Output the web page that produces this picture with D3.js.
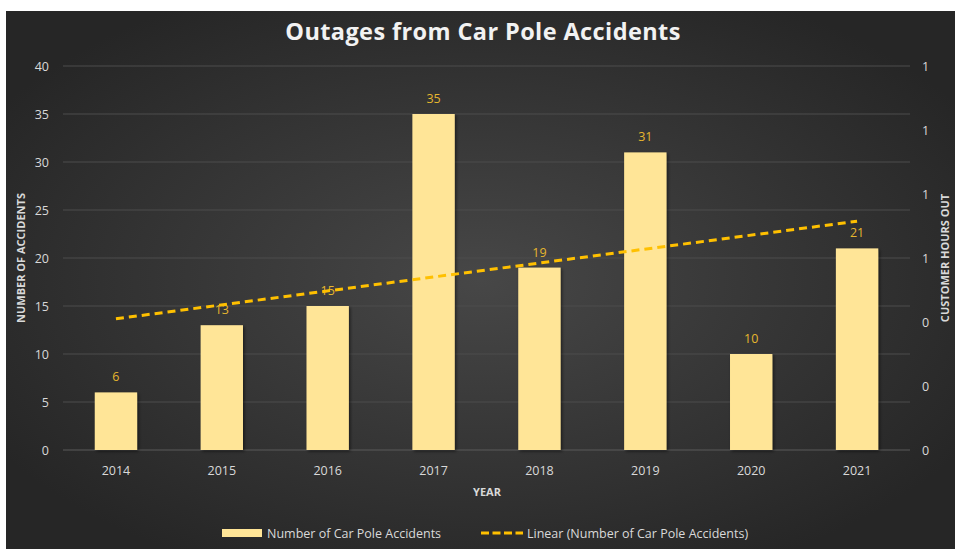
<!DOCTYPE html>
<html><head><meta charset="utf-8">
<script src="https://cdn.jsdelivr.net/npm/d3@7"></script>
<style>html,body{margin:0;padding:0;background:#fff;}svg{display:block;}</style>
</head><body>
<svg id="c" width="955" height="549"></svg>
<script>
const years = ["2014","2015","2016","2017","2018","2019","2020","2021"];
const accidents = [6,13,15,35,19,31,10,21];
const leftTicks = [0,5,10,15,20,25,30,35,40];
const rightTickLabels = ["0","0","0","1","1","1","1"];

const svg = d3.select("#c");
const W = 955, H = 549;
const defs = svg.append("defs");
const rg = defs.append("radialGradient").attr("id","bg").attr("cx","50%").attr("cy","50%").attr("r","60%");
rg.append("stop").attr("offset","0%").attr("stop-color","#474747");
rg.append("stop").attr("offset","100%").attr("stop-color","#262626");
const sh = defs.append("filter").attr("id","sh").attr("x","-20%").attr("y","-20%").attr("width","150%").attr("height","150%");
sh.append("feDropShadow").attr("dx",1.5).attr("dy",1.5).attr("stdDeviation",1.5).attr("flood-color","#000").attr("flood-opacity",0.5);

svg.append("rect").attr("x",6).attr("y",11).attr("width",W-6).attr("height",H-11).attr("fill","url(#bg)");

const m = {l:63, r:910, t:66, b:450};
const x = d3.scaleBand().domain(years).range([m.l,m.r]).paddingInner(0.6).paddingOuter(0.3);
const y = d3.scaleLinear().domain([0,40]).range([m.b,m.t]);
const yr = d3.scaleLinear().domain([0,1.2]).range([m.b,m.t]);
const font = "'Open Sans', sans-serif";

// gridlines
svg.append("g").selectAll("line").data(leftTicks).join("line")
  .attr("x1",m.l).attr("x2",m.r).attr("y1",d=>y(d)).attr("y2",d=>y(d))
  .attr("stroke",d=>d===0?"#5a5a5a":"#4d4d4d").attr("stroke-width",1);

// left axis
const ga = svg.append("g").attr("transform",`translate(${m.l},0)`)
  .call(d3.axisLeft(y).tickValues(leftTicks).tickSize(0).tickPadding(14));
ga.select(".domain").remove();
ga.selectAll("text").attr("fill","#d9d9d9").attr("font-size",12.5).attr("font-family",font);

// right axis
const rtv = d3.range(7).map(i=>i*0.2);
const gr = svg.append("g").attr("transform",`translate(${m.r},0)`)
  .call(d3.axisRight(yr).tickValues(rtv).tickSize(0).tickPadding(12).tickFormat((d,i)=>rightTickLabels[i]));
gr.select(".domain").remove();
gr.selectAll("text").attr("fill","#d9d9d9").attr("font-size",12.5).attr("font-family",font);

// x axis
const gx = svg.append("g").attr("transform",`translate(0,${m.b})`)
  .call(d3.axisBottom(x).tickSize(0).tickPadding(16));
gx.select(".domain").remove();
gx.selectAll("text").attr("fill","#d9d9d9").attr("font-size",12.5).attr("font-family",font);

// bars
svg.append("g").selectAll("rect").data(accidents).join("rect")
  .attr("x",(d,i)=>x(years[i])).attr("width",x.bandwidth())
  .attr("y",d=>y(d)).attr("height",d=>y(0)-y(d))
  .attr("fill","#ffe597").attr("filter","url(#sh)");

// labels
svg.append("g").selectAll("text").data(accidents).join("text")
  .attr("x",(d,i)=>x(years[i])+x.bandwidth()/2).attr("y",d=>y(d)-11)
  .attr("text-anchor","middle").attr("fill","#e6b62e").attr("font-size",12.5)
  .attr("font-family",font).text(d=>d);

// linear trendline (least squares of the series)
const n = accidents.length;
const xs = d3.range(1,n+1);
const mx = d3.mean(xs), my = d3.mean(accidents);
const slope = d3.sum(xs.map((v,i)=>(v-mx)*(accidents[i]-my)))/d3.sum(xs.map(v=>(v-mx)*(v-mx)));
const icpt = my - slope*mx;
const cx = i => x(years[i]) + x.bandwidth()/2;
svg.append("line")
  .attr("x1",cx(0)).attr("y1",y(icpt+slope*1))
  .attr("x2",cx(n-1)).attr("y2",y(icpt+slope*n))
  .attr("stroke","#ffc000").attr("stroke-width",3).attr("stroke-dasharray","8,5");

// title
svg.append("text").attr("x",483).attr("y",40).attr("text-anchor","middle")
  .attr("fill","#f2f2f2").attr("font-size",23.5).attr("font-weight","bold")
  .attr("font-family",font).attr("letter-spacing",0.4).text("Outages from Car Pole Accidents");

// axis titles
svg.append("text").attr("x",487).attr("y",496).attr("text-anchor","middle")
  .attr("fill","#d9d9d9").attr("font-size",11).attr("font-weight","bold")
  .attr("font-family",font).text("YEAR");
svg.append("text").attr("transform",`translate(25,${(m.t+m.b)/2}) rotate(-90)`).attr("text-anchor","middle")
  .attr("fill","#d9d9d9").attr("font-size",11).attr("font-weight","bold")
  .attr("font-family",font).text("NUMBER OF ACCIDENTS");
svg.append("text").attr("transform",`translate(949,${(m.t+m.b)/2}) rotate(-90)`).attr("text-anchor","middle")
  .attr("fill","#d9d9d9").attr("font-size",11).attr("font-weight","bold")
  .attr("font-family",font).text("CUSTOMER HOURS OUT");

// legend
const lg = svg.append("g");
lg.append("rect").attr("x",222).attr("y",529).attr("width",40).attr("height",8).attr("fill","#ffe597");
lg.append("text").attr("x",267).attr("y",537.5).attr("fill","#d9d9d9").attr("font-size",12.5)
  .attr("font-family",font).text("Number of Car Pole Accidents");
lg.append("line").attr("x1",481).attr("x2",523).attr("y1",533).attr("y2",533)
  .attr("stroke","#ffc000").attr("stroke-width",3).attr("stroke-dasharray","8,3.5");
lg.append("text").attr("x",527).attr("y",537.5).attr("fill","#d9d9d9").attr("font-size",12.5)
  .attr("font-family",font).text("Linear (Number of Car Pole Accidents)");
</script>
</body></html>
